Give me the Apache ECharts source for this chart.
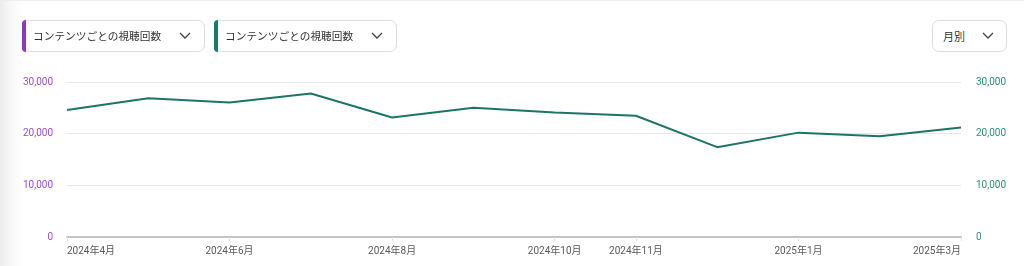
<!DOCTYPE html>
<html><head><meta charset="utf-8">
<script src="https://cdn.jsdelivr.net/npm/echarts@6/dist/echarts.min.js"></script>
<style>
html,body{margin:0;padding:0;width:1024px;height:266px;overflow:hidden;background:#fff;font-family:Roboto,"Noto Sans CJK JP",sans-serif;}
#wrap{position:relative;width:1024px;height:266px;background:linear-gradient(to right,#ececec 0px,#f7f7f7 10px,#fff 22px);border-top:1px solid #eee;box-sizing:border-box;}
#chart{position:absolute;left:0;top:0;width:1024px;height:266px;}
.btn{position:absolute;top:19px;height:32px;box-sizing:border-box;border:1px solid #dedede;border-radius:7px;background:#fff;font-size:10.7px;color:#333;font-family:"Noto Sans CJK JP",sans-serif;}
.btn .bar{position:absolute;left:-1px;top:-1px;bottom:-1px;width:4px;border-radius:7px 0 0 7px;}
.btn .txt{position:absolute;left:10px;top:7px;line-height:16px;}
.btn svg{position:absolute;top:10px;}
</style></head><body>
<div id="wrap">
<div id="chart"></div>
<div class="btn" style="left:22px;width:183px;"><div class="bar" style="background:#8a3ab9"></div><span class="txt">コンテンツごとの視聴回数</span><svg width="14" height="10" style="left:155px"><polyline points="2,2 7,7 12,2" fill="none" stroke="#444" stroke-width="1.3"/></svg></div>
<div class="btn" style="left:214px;width:183px;"><div class="bar" style="background:#1a7a6a"></div><span class="txt">コンテンツごとの視聴回数</span><svg width="14" height="10" style="left:155px"><polyline points="2,2 7,7 12,2" fill="none" stroke="#444" stroke-width="1.3"/></svg></div>
<div class="btn" style="left:932px;width:75px;font-size:11px;"><span class="txt">月別</span><svg width="14" height="10" style="left:48px"><polyline points="2,2 7,7 12,2" fill="none" stroke="#444" stroke-width="1.3"/></svg></div>
</div>
<script>
const categories = ["2024年4月","2024年5月","2024年6月","2024年7月","2024年8月","2024年9月","2024年10月","2024年11月","2024年12月","2025年1月","2025年2月","2025年3月"];
const shownLabelIdx = [0,2,4,6,7,9,11];
const viewsLeft = [24590,26860,26020,27780,23140,25020,24120,23460,17390,20200,19480,21180];
const viewsRight = [24590,26860,26020,27780,23140,25020,24120,23460,17390,20200,19480,21180];
const yTicks = [0,10000,20000,30000];

const chart = echarts.init(document.getElementById('chart'), null, {renderer:'canvas'});
const fmt = v => v.toLocaleString('en-US');
const showIdx = (i) => shownLabelIdx.indexOf(i) >= 0;
chart.setOption({
  animation:false,
  backgroundColor:'transparent',
  grid:{left:67,right:63,top:81,bottom:30,containLabel:false},
  xAxis:{
    type:'category',data:categories,boundaryGap:false,
    axisLine:{lineStyle:{color:'#c4c4c4',width:2}},
    axisTick:{show:true,interval:(i)=>showIdx(i),length:4,lineStyle:{color:'#e2e2e2'}},
    axisLabel:{interval:(i)=>showIdx(i),color:'#5a5a5a',fontSize:10,margin:9,fontFamily:'Roboto, "Noto Sans CJK JP"',alignMinLabel:'left',alignMaxLabel:'right'},
    splitLine:{show:false}
  },
  yAxis:[
    {type:'value',min:yTicks[0],max:yTicks[yTicks.length-1],interval:10000,position:'left',
     axisLine:{show:false},axisTick:{show:false},
     axisLabel:{color:'#9b4fc6',fontSize:10,margin:14,formatter:fmt,fontFamily:'Roboto'},
     splitLine:{lineStyle:{color:'#e6e6e6',width:1}}},
    {type:'value',min:yTicks[0],max:yTicks[yTicks.length-1],interval:10000,position:'right',
     axisLine:{show:false},axisTick:{show:false},
     axisLabel:{color:'#2f8a78',fontSize:10,margin:15,formatter:fmt,fontFamily:'Roboto'},
     splitLine:{show:false}}
  ],
  series:[
    {type:'line',yAxisIndex:0,data:viewsLeft,showSymbol:false,lineStyle:{color:'#8a3ab9',width:2,opacity:0},itemStyle:{color:'#8a3ab9'}},
    {type:'line',yAxisIndex:1,data:viewsRight,showSymbol:false,lineStyle:{color:'#1c7566',width:2},itemStyle:{color:'#1c7566'}}
  ]
});
</script>
</body></html>
